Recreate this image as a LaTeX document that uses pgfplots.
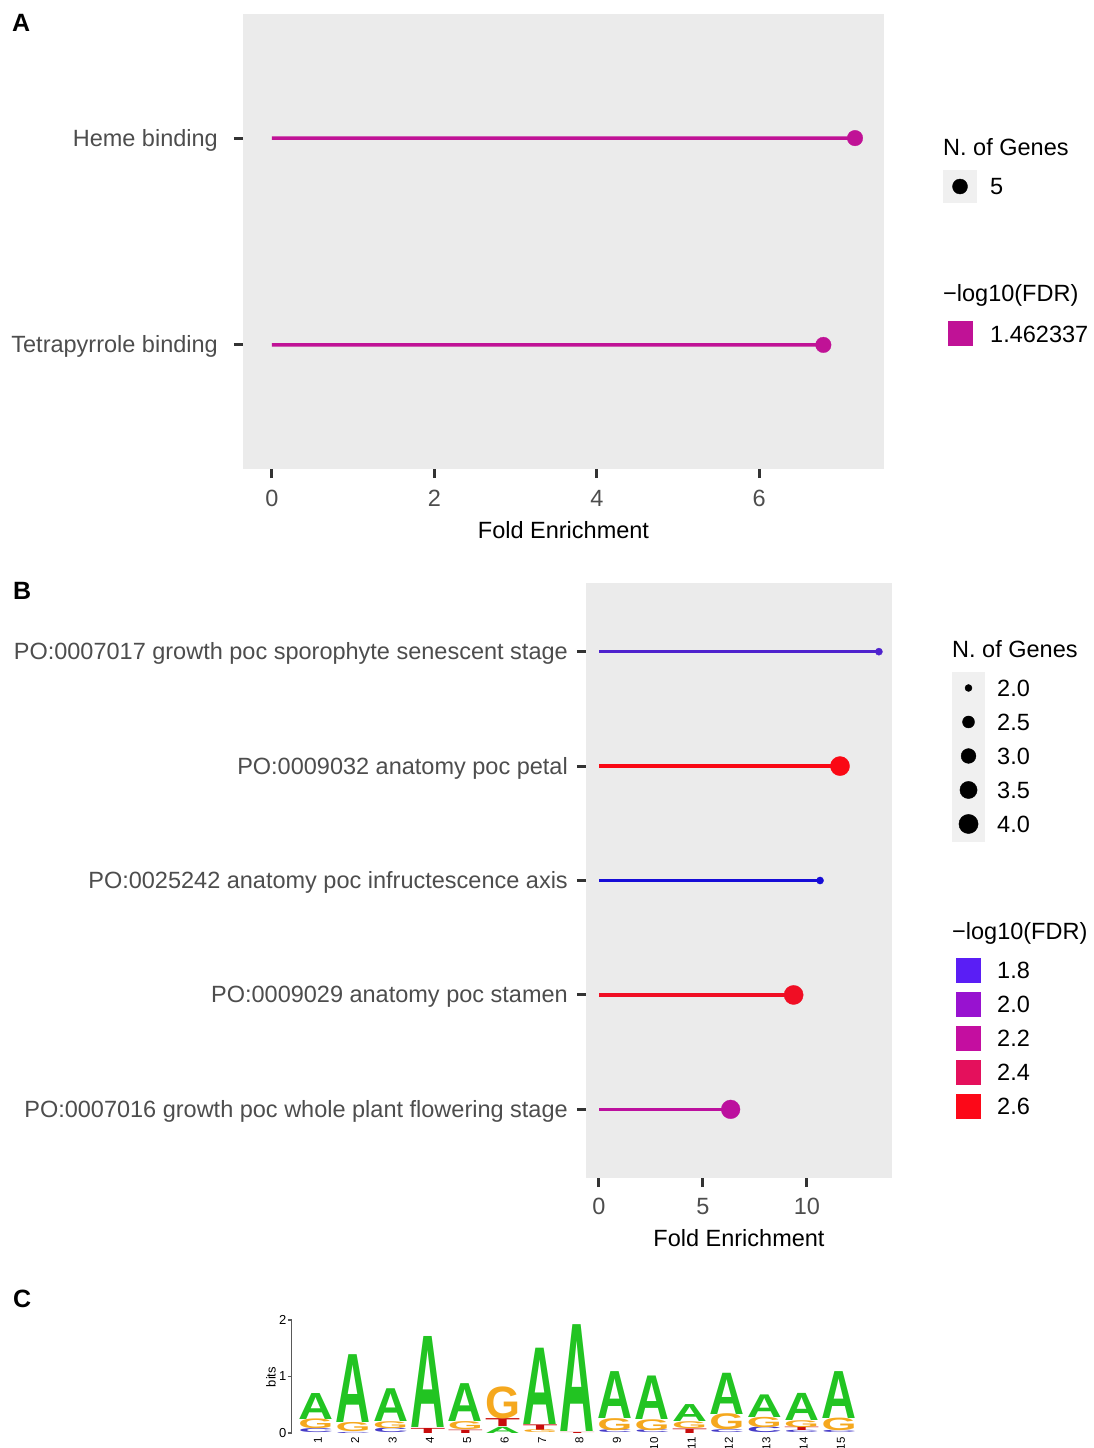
\documentclass[border=0pt]{standalone}
\usepackage{fontspec}
\setmainfont{Liberation Sans}
\usepackage{pgfplots}
\usepackage{pgfplotstable}
\pgfplotsset{compat=1.18}

\newcommand\fsz{\fontsize{23.5}{28}\selectfont}
\newcommand\lfsz{\fontsize{13}{15}\selectfont}
\newcommand\nfsz{\fontsize{11.5}{13}\selectfont}
\newcommand\logoletter{\fontspec{Liberation Sans}\bfseries}

\definecolor{panelbg}{HTML}{EBEBEB}
\definecolor{keybg}{HTML}{F0F0F0}
\definecolor{tickcol}{HTML}{333333}
\definecolor{labcol}{HTML}{4D4D4D}
% -log10(FDR) colours
\definecolor{fdrA}{RGB}{192,18,150}
\definecolor{cSpor}{RGB}{78,34,205}
\definecolor{cPetal}{RGB}{250,8,20}
\definecolor{cInfr}{RGB}{22,12,215}
\definecolor{cStam}{RGB}{240,14,36}
\definecolor{cFlow}{RGB}{188,16,158}
\definecolor{k18}{RGB}{90,30,245}
\definecolor{k20}{RGB}{152,18,208}
\definecolor{k22}{RGB}{196,14,160}
\definecolor{k24}{RGB}{228,16,92}
\definecolor{k26}{RGB}{252,8,24}
% nucleotide colours
\definecolor{logoA}{RGB}{34,196,34}
\definecolor{logoG}{RGB}{245,168,30}
\definecolor{logoC}{RGB}{70,60,200}
\definecolor{logoT}{RGB}{200,12,12}

% Panel A: GO molecular function
\pgfplotstableread{
fe   y
7.18 2
6.79 1
}\dataA

% Panel B legend sizes
\pgfplotstableread{
x v   r
0 2.0 3.5
0 2.5 6.0
0 3.0 7.4
0 3.5 8.6
0 4.0 9.6
}\sizeB

% Sequence logo stacks: position, bottom (bits), height (bits)
\pgfplotstableread{
x  y0   h
1  0.24 0.46
2  0.18 1.20
3  0.20 0.58
4  0.09 1.61
5  0.20 0.67
6  0.00 0.11
7  0.15 1.35
8  0.02 1.89
9  0.26 0.83
10 0.24 0.77
11 0.20 0.30
12 0.33 0.73
13 0.28 0.40
14 0.22 0.48
15 0.26 0.83
}\logoAtab
\pgfplotstableread{
x  y0   h
1  0.07 0.17
2  0.02 0.16
3  0.08 0.12
5  0.06 0.14
6  0.25 0.56
7  0.00 0.05
9  0.05 0.21
10 0.05 0.19
11 0.08 0.12
12 0.05 0.28
13 0.10 0.18
14 0.10 0.12
15 0.04 0.22
}\logoGtab
\pgfplotstableread{
x  y0   h
1  0.00 0.07
2  0.00 0.02
3  0.00 0.08
9  0.00 0.05
10 0.00 0.05
12 0.00 0.05
13 0.00 0.10
14 0.00 0.04
15 0.00 0.04
}\logoCtab
\pgfplotstableread{
x  y0   h
4  0.00 0.09
5  0.00 0.06
6  0.11 0.14
7  0.05 0.10
8  0.00 0.02
11 0.00 0.08
14 0.04 0.06
}\logoTtab

\pgfplotsset{
  lolli/.style={
    scale only axis, clip=false,
    axis background/.style={fill=panelbg},
    axis line style={draw=none},
    xtick pos=left, ytick pos=left,
    tick align=outside, major tick length=9pt,
    tick style={line width=3pt, color=tickcol},
    tick label style={font=\fsz, text=labcol, inner sep=0pt},
    yticklabel style={anchor=east},
    xticklabel style={anchor=base},
    /pgf/number format/assume math mode=true,
    xlabel style={font=\fsz, text=black, at={(axis description cs:0.5,0)}, anchor=base},
  },
  keyaxis/.style={
    scale only axis, clip=false,
    axis line style={draw=none}, ticks=none,
    xmin=-1, xmax=1,
  },
  logoletters/.style={
    draw=none, mark=none,
    visualization depends on={56.5*\thisrow{h} \as \hgt},
    nodes near coords={\resizebox{35pt}{\hgt pt}{\logoletter #1}},
    every node near coord/.append style={anchor=south, inner sep=0pt, outer sep=0pt, text=logo#1},
  },
}

\begin{document}
\begin{tikzpicture}
\useasboundingbox (0pt,0pt) rectangle (1094pt,-1448pt);

% panel tags
\node[anchor=base west, inner sep=0pt, font=\fontsize{25}{30}\selectfont\bfseries] at (12pt,-31pt) {A};
\node[anchor=base west, inner sep=0pt, font=\fontsize{25}{30}\selectfont\bfseries] at (13pt,-599pt) {B};
\node[anchor=base west, inner sep=0pt, font=\fontsize{25}{30}\selectfont\bfseries] at (13pt,-1307pt) {C};

%% ---------------- Panel A ----------------
\begin{axis}[lolli, at={(243pt,-14pt)}, anchor=north west,
  width=641pt, height=455pt,
  xmin=-0.357, xmax=7.537, ymin=0.4, ymax=2.6,
  xtick={0,2,4,6}, ytick={1,2},
  yticklabels={Tetrapyrrole binding, Heme binding},
  yticklabel style={xshift=-16pt, yshift=-2pt},
  xticklabel style={yshift=-28pt},
  xlabel={Fold Enrichment}, xlabel style={yshift=-69pt}]
\addplot[xbar, bar width=3.5pt, bar shift=0pt, fill=fdrA, draw=none] table[x=fe, y=y] {\dataA};
\addplot[only marks, mark=*, mark size=7.8pt, color=fdrA, mark options={line width=0.3pt, fill=fdrA}] table[x=fe, y=y] {\dataA};
\end{axis}

% legend A: size
\node[anchor=base west, inner sep=0pt, font=\fsz] at (943pt,-155.5pt) {N. of Genes};
\begin{axis}[keyaxis, at={(943pt,-170pt)}, anchor=north west, width=34pt, height=33pt,
  ymin=-1, ymax=1, axis background/.style={fill=keybg}]
\addplot[only marks, mark=*, mark size=7.5pt, black] coordinates {(0,0)};
\end{axis}
\node[anchor=base west, inner sep=0pt, font=\fsz] at (990pt,-194.5pt) {5};
% legend A: colour
\node[anchor=base west, inner sep=0pt, font=\fsz] at (943pt,-301pt) {−log10(FDR)};
\begin{axis}[keyaxis, at={(947pt,-322pt)}, anchor=north west, width=26pt, height=23pt,
  ymin=-1, ymax=1]
\addplot[only marks, mark=square*, mark size=12pt, fdrA] coordinates {(0,0)};
\end{axis}
\node[anchor=base west, inner sep=0pt, font=\fsz] at (990pt,-342pt) {1.462337};

%% ---------------- Panel B ----------------
\begin{axis}[lolli, at={(586pt,-583pt)}, anchor=north west,
  width=306pt, height=595pt,
  xmin=-0.625, xmax=14.09, ymin=0.4, ymax=5.6,
  xtick={0,5,10}, ytick={1,2,3,4,5},
  yticklabels={PO:0007016 growth poc whole plant flowering stage,
               PO:0009029 anatomy poc stamen,
               PO:0025242 anatomy poc infructescence axis,
               PO:0009032 anatomy poc petal,
               PO:0007017 growth poc sporophyte senescent stage},
  yticklabel style={xshift=-9pt, yshift=-2pt},
  xticklabel style={yshift=-27pt},
  xlabel={Fold Enrichment}, xlabel style={yshift=-68pt}]
% sporophyte senescent stage: 2 genes
\addplot[xbar, bar width=3.5pt, bar shift=0pt, fill=cSpor, draw=none] coordinates {(13.46,5)};
\addplot[only marks, mark=*, mark size=3.6pt, color=cSpor, mark options={line width=0.3pt, fill=cSpor}] coordinates {(13.46,5)};
% petal: 4 genes
\addplot[xbar, bar width=3.5pt, bar shift=0pt, fill=cPetal, draw=none] coordinates {(11.59,4)};
\addplot[only marks, mark=*, mark size=9.6pt, color=cPetal, mark options={line width=0.3pt, fill=cPetal}] coordinates {(11.59,4)};
% infructescence axis: 2 genes
\addplot[xbar, bar width=3.5pt, bar shift=0pt, fill=cInfr, draw=none] coordinates {(10.63,3)};
\addplot[only marks, mark=*, mark size=3.6pt, color=cInfr, mark options={line width=0.3pt, fill=cInfr}] coordinates {(10.63,3)};
% stamen: 4 genes
\addplot[xbar, bar width=3.5pt, bar shift=0pt, fill=cStam, draw=none] coordinates {(9.36,2)};
\addplot[only marks, mark=*, mark size=9.6pt, color=cStam, mark options={line width=0.3pt, fill=cStam}] coordinates {(9.36,2)};
% whole plant flowering stage: 4 genes
\addplot[xbar, bar width=3.5pt, bar shift=0pt, fill=cFlow, draw=none] coordinates {(6.33,1)};
\addplot[only marks, mark=*, mark size=9.4pt, color=cFlow, mark options={line width=0.3pt, fill=cFlow}] coordinates {(6.33,1)};
\end{axis}

% legend B: size
\node[anchor=base west, inner sep=0pt, font=\fsz] at (952pt,-657.5pt) {N. of Genes};
\begin{axis}[keyaxis, at={(952pt,-672pt)}, anchor=north west, width=33pt, height=170pt,
  ymin=1.765, ymax=4.265, y dir=reverse, axis background/.style={fill=keybg}]
\addplot[scatter, only marks, mark=*, point meta=\thisrow{r},
  scatter/use mapped color={draw=black, fill=black},
  visualization depends on={\thisrow{r} \as \rad},
  scatter/@pre marker code/.append style={/tikz/mark size=\rad pt}]
  table[x=x, y=v] {\sizeB};
\end{axis}
\foreach \lab/\yy in {2.0/688, 2.5/722, 3.0/756, 3.5/790, 4.0/824}
  \node[anchor=base west, inner sep=0pt, font=\fsz] at (997pt,-\yy pt-8.4pt) {\lab};

% legend B: colour
\node[anchor=base west, inner sep=0pt, font=\fsz] at (952pt,-939.5pt) {−log10(FDR)};
\begin{axis}[keyaxis, at={(955pt,-957pt)}, anchor=north west, width=27pt, height=160pt,
  ymin=1.7235, ymax=2.6647, y dir=reverse]
\addplot[only marks, mark=square*, mark size=12pt, k18] coordinates {(0,1.8)};
\addplot[only marks, mark=square*, mark size=12pt, k20] coordinates {(0,2.0)};
\addplot[only marks, mark=square*, mark size=12pt, k22] coordinates {(0,2.2)};
\addplot[only marks, mark=square*, mark size=12pt, k24] coordinates {(0,2.4)};
\addplot[only marks, mark=square*, mark size=12pt, k26] coordinates {(0,2.6)};
\end{axis}
\foreach \lab/\yy in {1.8/970, 2.0/1004, 2.2/1038, 2.4/1072, 2.6/1106}
  \node[anchor=base west, inner sep=0pt, font=\fsz] at (997pt,-\yy pt-8.4pt) {\lab};

%% ---------------- Panel C: sequence logo ----------------
\node[rotate=90, inner sep=0pt, font=\lfsz] at (271pt,-1377pt) {bits};
\begin{axis}[at={(291.5pt,-1320pt)}, anchor=north west, scale only axis,
  width=570pt, height=113pt, clip=false,
  xmin=0.35, xmax=15.6, ymin=0, ymax=2,
  axis y line*=left, axis x line*=bottom,
  x axis line style={draw=none},
  y axis line style={-, line width=1.2pt, color=black!65},
  xtick={1,...,15}, ytick={0,1,2},
  tick align=outside, major tick length=4pt,
  xtick style={draw=none},
  ytick style={line width=1.2pt, color=black!65},
  xticklabel style={rotate=90, anchor=east, font=\nfsz, inner sep=0pt, yshift=-2pt},
  yticklabel style={font=\lfsz, anchor=east, inner sep=1pt},
  /pgf/number format/assume math mode=true]
\addplot[logoletters=C] table[x=x, y=y0] {\logoCtab};
\addplot[logoletters=T] table[x=x, y=y0] {\logoTtab};
\addplot[logoletters=G] table[x=x, y=y0] {\logoGtab};
\addplot[logoletters=A] table[x=x, y=y0] {\logoAtab};
\end{axis}
\end{tikzpicture}
\end{document}
